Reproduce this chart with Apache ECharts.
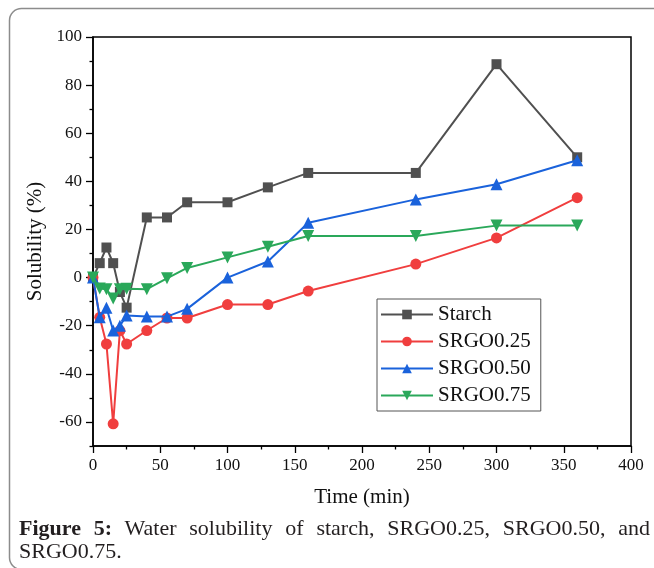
<!DOCTYPE html>
<html><head><meta charset="utf-8">
<script src="https://cdn.jsdelivr.net/npm/echarts@6/dist/echarts.min.js"></script>
<style>
html,body{margin:0;padding:0;background:#fff;}
#c{width:654px;height:568px;position:absolute;left:0;top:0;}
.cap{position:absolute;left:19px;width:631px;font-family:'Liberation Serif',serif;font-size:22px;line-height:22px;color:#231f20;white-space:nowrap;}
#cap1{top:517px;text-align:justify;text-align-last:justify;white-space:normal;}
#cap2{top:540px;text-align:left;}
</style></head><body>
<div id="c"></div>
<div id="cap1" class="cap"><b>Figure 5:</b> Water solubility of starch, SRGO0.25, SRGO0.50, and</div>
<div id="cap2" class="cap">SRGO0.75.</div>
<script>
const times = [0,5,10,15,20,25,40,55,70,100,130,160,240,300,360];
const seriesNames = ['Starch','SRGO0.25','SRGO0.50','SRGO0.75'];
const starch  = [0,6,12.5,6,-6,-12.5,25,25,31.3,31.3,37.5,43.5,43.5,88.7,50];
const srgo025 = [0,-16.5,-27.6,-60.8,-22,-27.6,-22,-16.8,-16.8,-11.2,-11.2,-5.6,5.6,16.5,33.2];
const srgo050 = [0,-16.5,-12.5,-22,-20,-15.8,-16.2,-16.2,-13,0,6.7,22.8,32.5,38.8,48.8];
const srgo075 = [0,-4.5,-4.8,-8.7,-4.8,-4.6,-4.8,-0.3,4,8.4,12.8,17.3,17.3,21.6,21.6];
const yMajorTicks = [-60,-40,-20,0,20,40,60,80,100];
const yMinorTicks = [-70,-50,-30,-10,10,30,50,70,90];

const values = [starch, srgo025, srgo050, srgo075];
const colors = ['#505050','#f03e3e','#1a62db','#2aa85a'];
const symbols = ['rect','circle','triangle','triangle'];
const symbolSizes = [10,11,12,12];
const rotates = [0,0,0,180];

const font = "'Liberation Serif', serif";
const chart = echarts.init(document.getElementById('c'));
chart.setOption({
  animation:false,
  backgroundColor:'#fff',
  graphic:[{type:'rect',z:-10,shape:{x:9.5,y:8.5,width:700,height:561,r:12},style:{fill:'none',stroke:'#8c8c8c',lineWidth:1.5}}],
  grid:{left:93,right:23,top:37,bottom:122,show:true,borderColor:'#000',borderWidth:1.5,backgroundColor:'transparent'},
  legend:{
    orient:'vertical',left:377,top:299,
    padding:[5,10,5,3],itemGap:6,itemWidth:52,itemHeight:12,
    borderColor:'#555',borderWidth:1,
    textStyle:{fontFamily:font,fontSize:21,color:'#111',lineHeight:20},
    data:seriesNames
  },
  xAxis:{
    type:'value',min:0,max:400,interval:50,
    name:'Time (min)',nameLocation:'middle',nameGap:41,
    nameTextStyle:{fontFamily:font,fontSize:21,color:'#111'},
    axisLine:{show:true,onZero:false,lineStyle:{color:'#000',width:1.5}},
    axisTick:{show:true,inside:false,length:7,lineStyle:{color:'#000',width:1.3}},
    minorTick:{show:true,splitNumber:2,length:3.5,lineStyle:{color:'#000',width:1.3}},
    axisLabel:{fontFamily:font,fontSize:17,color:'#111',margin:11},
    splitLine:{show:false}
  },
  yAxis:[{
    type:'value',min:-70,max:100,position:'left',
    name:'Solubility (%)',nameLocation:'middle',nameGap:47,nameRotate:90,
    nameTextStyle:{fontFamily:font,fontSize:21,color:'#111'},
    axisLine:{show:true,onZero:false,lineStyle:{color:'#000',width:1.5}},
    axisTick:{show:true,inside:false,length:7,customValues:yMajorTicks,lineStyle:{color:'#000',width:1.3}},
    axisLabel:{fontFamily:font,fontSize:17,color:'#111',margin:11,customValues:yMajorTicks},
    splitLine:{show:false}
  },{
    type:'value',min:-70,max:100,position:'left',
    axisLine:{show:false,onZero:false},
    axisTick:{show:true,inside:false,length:3.5,customValues:yMinorTicks,lineStyle:{color:'#000',width:1.3}},
    axisLabel:{show:false},
    splitLine:{show:false}
  }],
  series: seriesNames.map((n,i)=>({
    name:n,type:'line',yAxisIndex:0,
    data:times.map((t,j)=>[t,values[i][j]]),
    symbol:symbols[i],symbolSize:symbolSizes[i],symbolRotate:rotates[i],
    itemStyle:{color:colors[i]},
    lineStyle:{color:colors[i],width:2},
    z:2+i
  }))
});
</script>
</body></html>
